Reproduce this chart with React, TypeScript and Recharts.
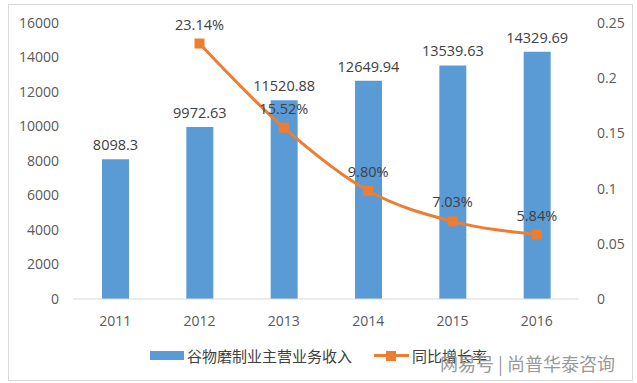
import React from 'react';
import { ComposedChart, Bar, Line, XAxis, YAxis, Legend, LabelList } from 'recharts';

const years = ['2011', '2012', '2013', '2014', '2015', '2016'];
const revenue = [8098.3, 9972.63, 11520.88, 12649.94, 13539.63, 14329.69];
const growth = [null, 0.2314, 0.1552, 0.098, 0.0703, 0.0584];
const growthLabels = ['', '23.14%', '15.52%', '9.80%', '7.03%', '5.84%'];
const leftTicks = [0, 2000, 4000, 6000, 8000, 10000, 12000, 14000, 16000];
const rightTicks = [0, 0.05, 0.1, 0.15, 0.2, 0.25];

const data = years.map((y, i) => ({
  year: y,
  revenue: revenue[i],
  growth: growth[i],
  glabel: growthLabels[i],
}));

const BLUE = '#5B9BD5';
const ORANGE = '#ED7D31';
const FONT = '"Open Sans", "Noto Sans CJK SC", sans-serif';

const Square = (props: any) => {
  const { cx, cy } = props;
  if (cx == null || cy == null || props.value == null) return <g />;
  return <rect x={cx - 5} y={cy - 5} width={10} height={10} fill={ORANGE} />;
};

const LegendContent = () => (
  <div style={{ display: 'flex', alignItems: 'center', justifyContent: 'center', fontFamily: FONT, fontSize: 15, color: '#404040' }}>
    <span style={{ display: 'inline-block', width: 34, height: 9, background: BLUE, marginRight: 3 }} />
    <span>谷物磨制业主营业务收入</span>
    <span style={{ display: 'inline-block', position: 'relative', width: 35, height: 10, marginLeft: 22, marginRight: 3 }}>
      <span style={{ position: 'absolute', left: 0, top: 3.5, width: 35, height: 3, background: ORANGE }} />
      <span style={{ position: 'absolute', left: 12, top: 0, width: 10, height: 10, background: ORANGE }} />
    </span>
    <span>同比增长率</span>
  </div>
);

export default function App() {
  return (
    <div style={{ position: 'absolute', left: 0, top: 0, width: 637, height: 383, background: '#fff' }}>
      <div style={{ position: 'absolute', left: 8, top: 4, width: 623, height: 375, border: '1px solid #d9d9d9' }} />
      <ComposedChart
        width={637}
        height={383}
        data={data}
        margin={{ top: 23, right: 8, left: 8, bottom: 20 }}
        style={{ fontFamily: FONT }}
      >
        <XAxis
          dataKey="year"
          axisLine={{ stroke: '#d9d9d9' }}
          tickLine={false}
          tick={{ fill: '#595959', fontSize: 14 }}
          tickMargin={11}
          height={30}
        />
        <YAxis
          yAxisId="left"
          domain={[0, 16000]}
          ticks={leftTicks}
          axisLine={false}
          tickLine={false}
          tick={{ fill: '#595959', fontSize: 14 }}
          width={65}
          tickMargin={8}
        />
        <YAxis
          yAxisId="right"
          orientation="right"
          domain={[0, 0.25]}
          ticks={rightTicks}
          axisLine={false}
          tickLine={false}
          tick={{ fill: '#595959', fontSize: 14, textAnchor: 'start' }}
          tickFormatter={(v: number) => String(+v.toFixed(2))}
          width={50}
          tickMargin={12}
        />
        <Legend verticalAlign="bottom" height={34} wrapperStyle={{ bottom: 4 }} content={<LegendContent />} />
        <Bar yAxisId="left" dataKey="revenue" fill={BLUE} barSize={27} isAnimationActive={false}>
          <LabelList dataKey="revenue" position="top" offset={9} fill="#404040" fontSize={14.5} />
        </Bar>
        <Line
          yAxisId="right"
          type="monotone"
          dataKey="growth"
          stroke={ORANGE}
          strokeWidth={3}
          dot={<Square />}
          activeDot={false}
          connectNulls
          isAnimationActive={false}
        >
          <LabelList dataKey="glabel" position="top" offset={14} fill="#404040" fontSize={14.5} />
        </Line>
      </ComposedChart>
      <div style={{ position: 'absolute', left: 440, top: 350, fontFamily: '"Noto Sans CJK SC", sans-serif', fontSize: 18, color: '#999999', whiteSpace: 'nowrap' }}>
        网易号 | 尚普华泰咨询
      </div>
    </div>
  );
}
